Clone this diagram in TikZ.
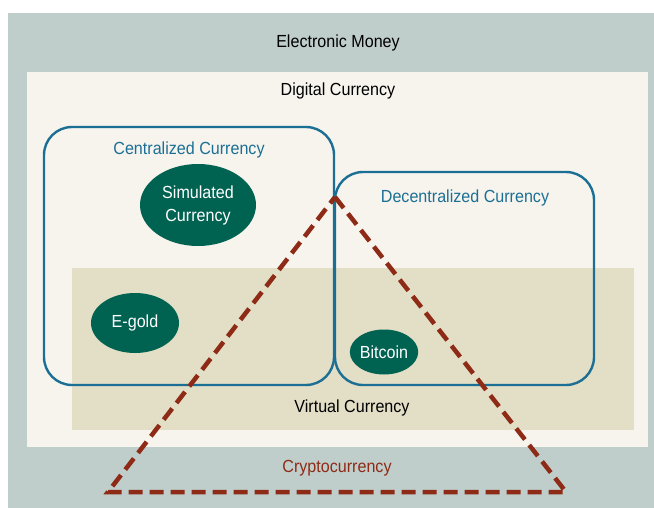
\documentclass[tikz,border=0pt]{standalone}
\usepackage{fontspec}
\setmainfont{Liberation Sans}[FakeStretch=0.92]
\usetikzlibrary{shapes.geometric}

\definecolor{moneygray}{HTML}{BFCECA}
\definecolor{digitalcream}{HTML}{F7F4EE}
\definecolor{virtualtan}{HTML}{E3DEC6}
\definecolor{currblue}{HTML}{1C6F94}
\definecolor{cashgreen}{HTML}{006251}
\definecolor{cryptored}{HTML}{8E2B17}

\tikzset{
  label/.style={font=\fontsize{17.5}{20}\selectfont, inner sep=0pt},
  ovalcash/.style={ellipse, fill=cashgreen, text=white, align=center,
    font=\fontsize{17.5}{23}\selectfont, inner sep=0pt},
  currbox/.style={draw=currblue, line width=2.4pt, rounded corners=28pt}
}

\begin{document}
\begin{tikzpicture}[x=1pt, y=-1pt]
  \useasboundingbox (0,0) rectangle (654,508);
  \fill[white] (0,0) rectangle (654,508);
  \fill[moneygray] (8,13) rectangle (654,508);
  \fill[digitalcream] (27,72) rectangle (648,447);
  \fill[virtualtan] (72,268) rectangle (634,430);

  \node[label] (emoney) at (338,43) {Electronic Money};
  \node[label] (digital) at (338,91) {Digital Currency};
  \node[label] (virtual) at (352,408) {Virtual Currency};

  \draw[currbox] (44,127) rectangle (334,385);
  \draw[currbox] (335,172) rectangle (594,385);
  \node[label, text=currblue] (central) at (189,150) {Centralized Currency};
  \node[label, text=currblue] (decentral) at (465,198) {Decentralized Currency};

  \node[ovalcash, minimum width=116pt, minimum height=82pt] (simulated) at (198,205) {Simulated\\Currency};
  \node[ovalcash, minimum width=88pt, minimum height=60pt] (egold) at (135,323) {E-gold};
  \node[ovalcash, minimum width=64pt, minimum height=45pt] (bitcoin) at (384,352) {Bitcoin};

  % cryptocurrency triangle
  \coordinate (apex) at (335,197);
  \coordinate (leftc) at (108,492);
  \coordinate (rightc) at (566,492);
  \draw[cryptored, line width=4.5pt, dash pattern=on 14pt off 7pt, line join=miter]
    (apex) -- (rightc) -- (leftc) -- cycle;
  \node[label, text=cryptored] (crypto) at (337,468) {Cryptocurrency};
\end{tikzpicture}
\end{document}
